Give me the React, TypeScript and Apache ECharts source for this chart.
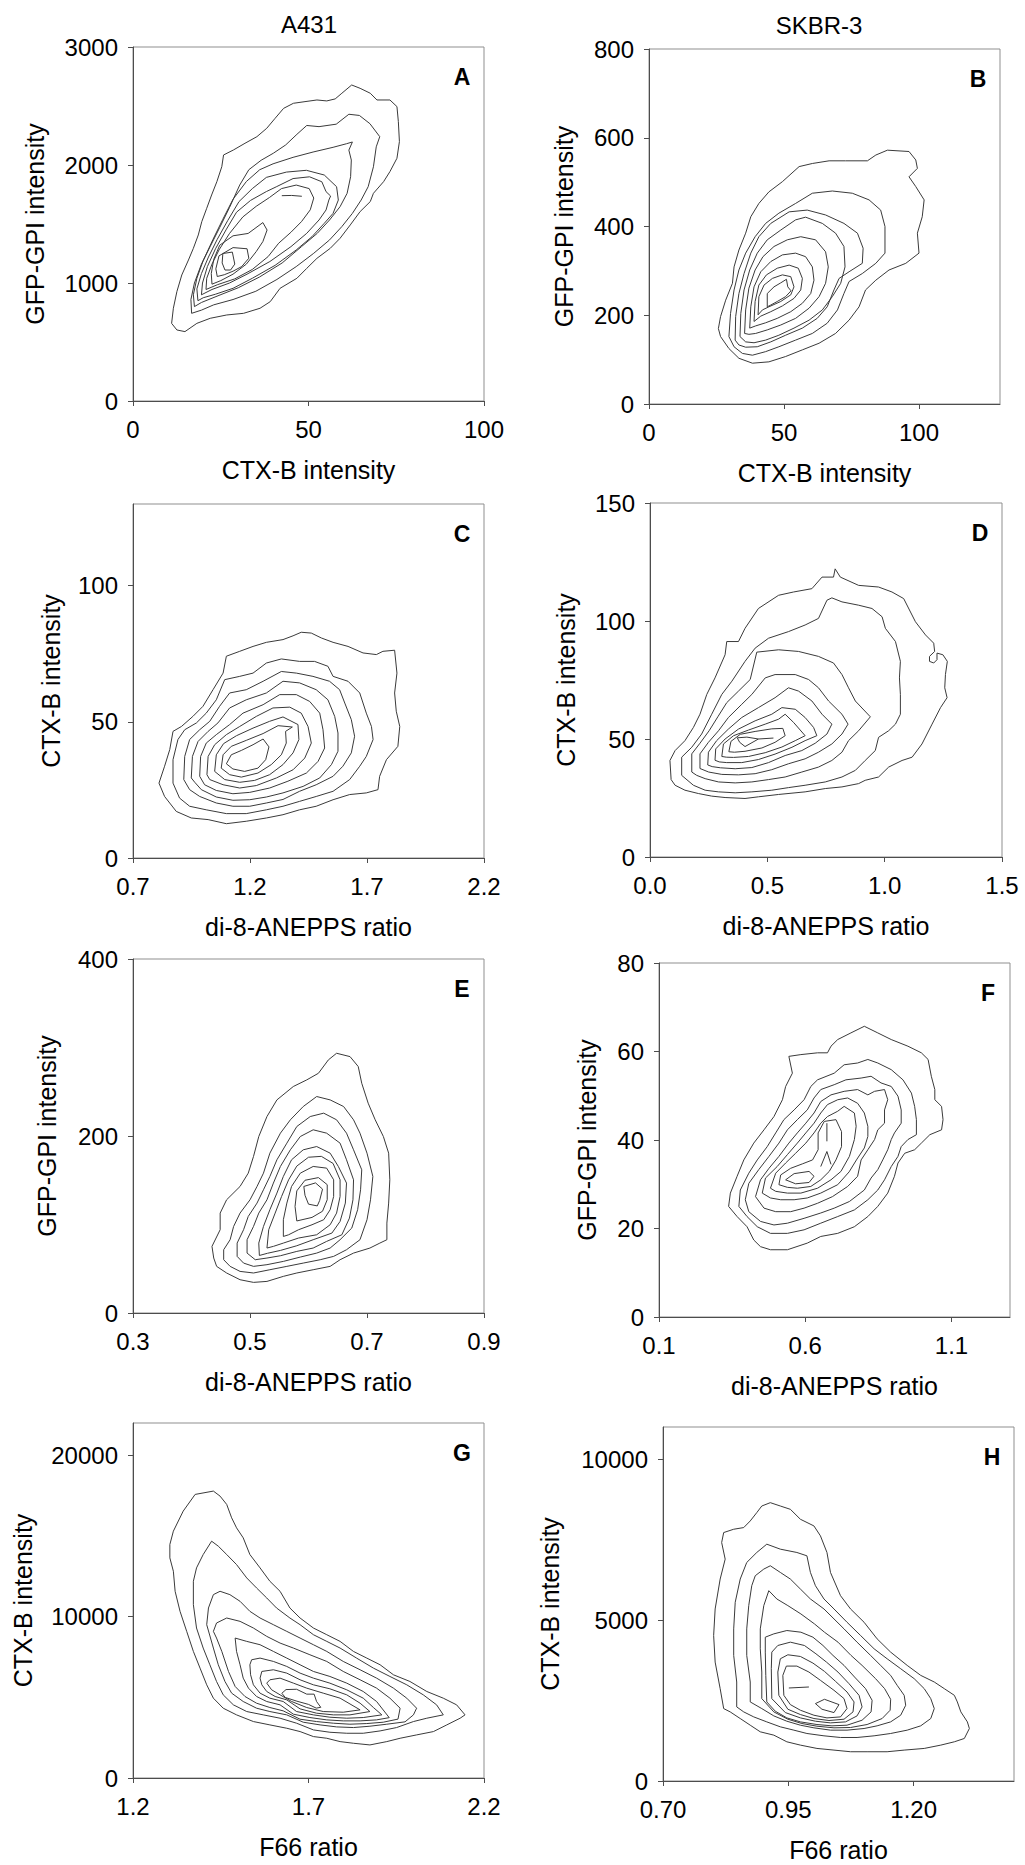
import React, { useEffect, useRef } from "react";
import * as echarts from "echarts";

type Pt = [number, number];

// ---------------- Column headers ----------------
const COLUMN_TITLES = ["A431", "SKBR-3"];

// ---------------- Panel A (A431: CTX-B vs GFP-GPI) ----------------
const A_X_TICKS = [0, 50, 100];
const A_Y_TICKS = [0, 1000, 2000, 3000];
const A_C1: Pt[] = [[11.0,658],[11.5,786],[12.5,927],[13.9,1068],[15.8,1195],[17.2,1294],[18.6,1407],[19.6,1520],[21.0,1633],[22.4,1746],[23.9,1859],[25.3,1986],[25.8,2085],[28.6,2127],[31.9,2184],[35.3,2240],[38.1,2311],[40.5,2396],[42.9,2480],[45.7,2523],[49.0,2537],[52.4,2551],[55.2,2543],[57.6,2560],[59.5,2608],[62.3,2678],[64.7,2650],[67.6,2608],[69.5,2551],[73.2,2551],[75.2,2495],[75.6,2368],[75.9,2198],[75.2,2057],[73.2,1944],[71.4,1859],[68.5,1760],[67.6,1690],[64.7,1605],[61.9,1492],[59.0,1379],[56.2,1294],[52.4,1209],[49.5,1124],[46.7,1040],[41.9,955],[39.1,842],[36.2,786],[31.5,743],[26.7,729],[22.0,701],[18.2,658],[14.8,588],[12.5,602]];
const A_C2: Pt[] = [[16.7,743],[16.5,860],[17.5,1000],[19.5,1160],[22,1310],[24.7,1470],[27.5,1640],[30.4,1830],[33,1960],[36.5,2040],[40,2100],[43.5,2170],[46.7,2260],[49.5,2335],[53,2325],[57.9,2346],[61.5,2430],[64.5,2420],[67.5,2350],[70.3,2240],[69.3,2154],[68.5,1985],[67,1816],[65,1703],[62.5,1590],[59.5,1478],[56,1365],[51.5,1252],[46.5,1139],[41,1030],[35,930],[28.5,860],[23,815],[19.5,770]];
const A_C3: Pt[] = [[17.5,800],[17.2,900],[18.2,1040],[20,1190],[22.8,1370],[25.6,1540],[28.5,1710],[32.3,1860],[36.1,1960],[39.9,2010],[45.6,2065],[51.3,2110],[57,2150],[60.8,2180],[62.5,2195],[61.5,2126],[62.2,2042],[62,1901],[61,1760],[59,1647],[56,1534],[52.5,1421],[48,1308],[42.5,1170],[36,1050],[30,960],[24.5,895],[19.5,835]];
const A_C4: Pt[] = [[18.5,850],[18.2,950],[19.5,1080],[21.5,1220],[24,1370],[27,1530],[30.2,1690],[34,1800],[38,1895],[43.7,1940],[49.4,1955],[54.5,1915],[58,1816],[58.5,1703],[57,1590],[54.5,1506],[51,1393],[46.5,1280],[40.5,1150],[34,1040],[28.5,955],[23.5,905],[20,875]];
const A_C5: Pt[] = [[19.5,900],[19.8,1000],[21.2,1140],[23.5,1290],[26.5,1450],[29.5,1600],[33.5,1700],[38,1775],[40.8,1815],[45.6,1885],[50.3,1900],[53.8,1858],[55,1774],[56.3,1737],[55.8,1703],[55,1619],[53,1534],[49.5,1421],[45,1308],[39,1182],[32.5,1075],[27.5,1000],[22.5,945]];
const A_C6: Pt[] = [[20.8,945],[21,1040],[22.5,1160],[24.5,1280],[27.5,1420],[31.3,1560],[35.1,1650],[38.9,1725],[42.3,1800],[46.5,1830],[50.2,1800],[51.5,1720],[50.5,1620],[48,1520],[45,1430],[41.5,1337],[38.5,1224],[34,1115],[29,1035],[24,985]];
const A_C7: Pt[] = [[22.5,990],[22.3,1080],[23,1200],[24.7,1320],[28.5,1400],[32.8,1420],[37,1512],[38.2,1449],[37,1351],[35.1,1266],[32.3,1160],[28.5,1075],[25,1020]];
const A_C8: Pt[] = [[24,1055],[23.6,1120],[24.5,1230],[28.5,1300],[32.5,1290],[33,1210],[31,1140],[28.5,1100],[26,1070]];
const A_C9: Pt[] = [[25.6,1250],[28.3,1262],[29,1160],[27.8,1110],[26.2,1110],[25.4,1170]];
const A_OPEN1: Pt[] = [[42.4,1740],[45.2,1742],[48.1,1735]];

// ---------------- Panel B (SKBR-3: CTX-B vs GFP-GPI) ----------------
const B_X_TICKS = [0, 50, 100];
const B_Y_TICKS = [0, 200, 400, 600, 800];
const B_C1: Pt[] = [[25.7,170],[26.5,197],[28.4,234],[30.9,272],[31.5,309],[33.3,347],[35.8,385],[37.7,422],[40.7,452],[44.4,478],[49.4,501],[55.6,535],[60.5,542],[66.7,548],[72.8,548],[80.9,548],[84.0,561],[88.3,572],[96.3,569],[98.8,550],[99.4,531],[96.3,512],[98.8,490],[101.9,460],[101.2,422],[99.4,385],[100.0,340],[95.1,317],[88.9,302],[84.0,279],[80.2,257],[77.8,219],[74.1,189],[69.1,159],[63.0,137],[56.8,122],[50.6,107],[44.4,95],[38.3,92],[33.3,103],[29.6,125],[26.5,152]];
const B_C2: Pt[] = [[29.6,152],[30.2,204],[31.5,257],[33.3,302],[35.8,340],[39.3,377],[43.2,407],[48.1,430],[54.3,452],[60.5,475],[67.9,480],[75.3,475],[81.5,460],[85.8,437],[87.4,400],[87.4,340],[84.0,317],[79.0,294],[74.1,276],[72.2,249],[69.8,212],[66.0,182],[60.5,159],[54.3,144],[48.1,129],[43.2,118],[38.3,110],[34.6,114],[31.5,129]];
const B_C3: Pt[] = [[31.9,144],[32.1,197],[33.3,249],[35.2,294],[37.7,340],[40.7,377],[45.1,407],[51.9,433],[58.6,437],[65.4,426],[72.2,407],[77.2,385],[79.3,351],[79.0,317],[74.1,298],[70.4,283],[68.5,257],[66.0,219],[62.3,193],[56.8,171],[50.6,155],[45.1,140],[40.1,129],[35.8,128],[33.3,133]];
const B_C4: Pt[] = [[33.7,152],[34.0,204],[35.2,257],[37.3,302],[40.1,340],[43.8,370],[48.8,392],[54.3,415],[58.0,421],[64.2,407],[69.1,385],[72.2,355],[72.6,309],[71.0,272],[67.9,242],[64.2,212],[59.3,189],[53.7,171],[48.1,155],[43.2,144],[38.9,138],[35.8,140]];
const B_C5: Pt[] = [[35.4,159],[35.8,212],[37.0,261],[39.3,302],[42.2,332],[46.3,355],[51.2,370],[56.2,377],[61.7,370],[65.4,343],[66.4,309],[65.4,272],[63.0,242],[59.3,216],[54.3,193],[48.8,178],[43.8,167],[39.5,159],[37.0,157]];
const B_C6: Pt[] = [[37.3,171],[37.7,219],[38.9,264],[41.4,298],[45.1,321],[49.4,336],[54.3,340],[58.0,332],[60.5,309],[61.1,279],[59.9,249],[56.8,227],[52.5,208],[47.5,193],[43.2,183],[39.5,176]];
const B_C7: Pt[] = [[38.9,186],[39.3,231],[40.7,268],[43.5,291],[47.5,306],[51.9,313],[55.3,306],[56.8,283],[56.2,257],[53.7,238],[49.4,221],[45.1,208],[41.4,198]];
const B_C8: Pt[] = [[40.4,201],[40.7,242],[42.6,268],[45.7,283],[49.4,291],[52.5,287],[53.7,264],[52.5,246],[48.8,231],[44.4,219],[42.0,212]];
const B_C9: Pt[] = [[43.8,219],[43.8,249],[46.3,264],[48.8,273],[50.9,281],[51.4,264],[52.6,255],[50.6,242],[47.5,231],[45.1,223]];

// ---------------- Panel C (A431: di-8-ANEPPS vs CTX-B) ----------------
const C_X_TICKS = [0.7, 1.2, 1.7, 2.2];
const C_Y_TICKS = [0, 50, 100];
const C_C1: Pt[] = [[0.811,27.5],[0.835,33.7],[0.857,39.8],[0.871,46.5],[0.907,48.3],[0.956,52.0],[0.999,55.7],[1.042,61.8],[1.085,67.9],[1.099,74.1],[1.156,75.9],[1.213,77.7],[1.270,79.2],[1.341,80.2],[1.384,81.6],[1.419,82.9],[1.462,82.6],[1.505,80.8],[1.555,79.2],[1.619,77.7],[1.683,75.3],[1.740,74.7],[1.768,75.9],[1.818,76.3],[1.828,67.9],[1.818,60.6],[1.825,53.9],[1.840,48.3],[1.832,41.0],[1.783,36.1],[1.754,30.0],[1.747,25.1],[1.697,23.9],[1.626,23.3],[1.555,21.4],[1.483,19.0],[1.412,17.7],[1.341,15.9],[1.270,14.7],[1.184,13.5],[1.099,12.6],[1.021,14.1],[0.949,14.7],[0.885,17.1],[0.835,22.6]];
const C_C2: Pt[] = [[0.871,27.5],[0.871,36.1],[0.892,43.5],[0.921,47.1],[0.971,49.6],[1.013,53.2],[1.056,58.1],[1.092,65.5],[1.156,66.7],[1.213,67.9],[1.270,71.6],[1.334,73.1],[1.412,72.2],[1.476,72.2],[1.533,70.4],[1.555,66.7],[1.619,64.9],[1.669,60.6],[1.697,53.2],[1.719,48.3],[1.726,43.5],[1.697,37.3],[1.669,33.7],[1.626,28.8],[1.555,24.5],[1.483,22.6],[1.412,20.8],[1.341,19.0],[1.270,17.7],[1.184,16.3],[1.099,16.3],[1.013,17.7],[0.942,19.0],[0.899,22.0]];
const C_C3: Pt[] = [[0.917,28.8],[0.921,37.3],[0.942,43.5],[0.985,47.1],[1.028,50.2],[1.070,55.7],[1.113,60.6],[1.184,61.8],[1.256,64.9],[1.334,68.5],[1.398,67.9],[1.469,66.7],[1.540,64.9],[1.583,61.8],[1.605,56.9],[1.633,50.8],[1.647,44.7],[1.633,38.6],[1.597,33.7],[1.555,30.0],[1.483,26.9],[1.412,24.5],[1.341,21.5],[1.270,20.2],[1.199,19.0],[1.127,19.0],[1.056,20.2],[0.985,22.6],[0.942,25.1]];
const C_C4: Pt[] = [[0.949,29.4],[0.954,37.3],[0.978,42.8],[1.021,46.5],[1.063,49.6],[1.113,55.1],[1.184,58.1],[1.270,60.6],[1.341,64.9],[1.412,64.3],[1.483,61.8],[1.533,58.1],[1.562,52.0],[1.576,45.9],[1.576,39.2],[1.548,34.3],[1.498,29.4],[1.427,26.3],[1.341,23.9],[1.270,22.4],[1.199,21.4],[1.127,21.2],[1.056,22.4],[0.992,25.1],[0.964,27.8]];
const C_C5: Pt[] = [[0.985,30.0],[0.989,37.3],[1.013,42.2],[1.056,45.3],[1.113,49.0],[1.170,53.2],[1.256,56.3],[1.327,60.0],[1.398,60.0],[1.455,57.5],[1.498,53.2],[1.512,47.1],[1.519,40.4],[1.491,35.5],[1.441,31.2],[1.362,28.2],[1.284,25.7],[1.199,24.1],[1.127,23.6],[1.056,24.8],[1.006,26.9]];
const C_C6: Pt[] = [[1.016,30.6],[1.021,37.3],[1.049,41.6],[1.099,45.3],[1.156,48.3],[1.227,52.0],[1.298,55.1],[1.370,55.4],[1.419,53.2],[1.448,48.3],[1.462,42.2],[1.434,36.7],[1.384,32.4],[1.313,29.4],[1.227,26.6],[1.156,25.7],[1.085,26.9],[1.028,28.8]];
const C_C7: Pt[] = [[1.049,31.8],[1.056,37.9],[1.087,42.0],[1.142,44.9],[1.213,47.7],[1.284,50.2],[1.341,51.8],[1.405,49.0],[1.409,43.5],[1.384,38.6],[1.341,34.3],[1.284,30.6],[1.220,28.5],[1.156,27.8],[1.092,28.8]];
const C_C8: Pt[] = [[1.077,33.0],[1.085,37.9],[1.120,41.0],[1.184,43.2],[1.256,45.7],[1.320,48.6],[1.381,48.1],[1.352,46.5],[1.355,42.2],[1.334,37.9],[1.291,34.3],[1.234,31.2],[1.163,29.7],[1.113,30.6]];
const C_C9: Pt[] = [[1.099,34.6],[1.120,37.9],[1.163,39.5],[1.213,41.6],[1.256,43.7],[1.281,40.8],[1.267,36.1],[1.234,33.0],[1.177,31.8],[1.127,32.7]];

// ---------------- Panel D (SKBR-3: di-8-ANEPPS vs CTX-B) ----------------
const D_X_TICKS = [0, 0.5, 1.0, 1.5];
const D_Y_TICKS = [0, 50, 100, 150];
const D_C1: Pt[] = [[0.090,32.8],[0.085,40.9],[0.107,45.1],[0.149,49.3],[0.185,54.9],[0.213,60.5],[0.242,68.9],[0.277,75.9],[0.320,85.7],[0.327,91.3],[0.377,91.3],[0.405,96.9],[0.462,105.3],[0.548,110.9],[0.612,112.3],[0.690,113.7],[0.733,118.6],[0.782,118.6],[0.789,122.1],[0.811,118.6],[0.889,115.1],[0.974,114.4],[1.031,112.3],[1.081,109.5],[1.131,99.7],[1.174,94.1],[1.209,90.6],[1.213,87.1],[1.191,85.0],[1.191,82.9],[1.209,82.2],[1.223,83.6],[1.223,86.4],[1.248,85.7],[1.267,82.9],[1.259,77.3],[1.256,71.7],[1.266,67.5],[1.238,63.3],[1.202,56.3],[1.159,47.9],[1.117,42.3],[1.074,40.9],[1.017,38.1],[0.974,33.9],[0.917,32.5],[0.889,31.1],[0.818,29.7],[0.747,29.0],[0.661,27.6],[0.548,26.5],[0.462,25.5],[0.405,24.8],[0.320,25.2],[0.263,25.8],[0.206,26.9],[0.149,28.3],[0.107,30.4]];
const D_C2: Pt[] = [[0.135,34.6],[0.135,42.3],[0.178,46.5],[0.220,52.1],[0.263,60.5],[0.306,68.9],[0.349,74.5],[0.405,82.9],[0.448,88.5],[0.505,92.7],[0.590,95.5],[0.661,98.3],[0.718,101.1],[0.754,108.8],[0.775,109.8],[0.818,108.1],[0.889,106.7],[0.946,105.3],[0.989,101.8],[1.003,96.9],[1.046,91.3],[1.067,82.9],[1.063,75.9],[1.067,68.9],[1.067,60.5],[1.046,56.3],[1.017,53.5],[0.974,50.7],[0.960,45.1],[0.917,40.9],[0.875,36.7],[0.818,33.9],[0.747,31.8],[0.661,30.4],[0.590,29.4],[0.519,28.3],[0.434,27.6],[0.363,27.2],[0.292,27.6],[0.235,28.3],[0.185,30.4]];
const D_C3: Pt[] = [[0.178,36.0],[0.178,43.7],[0.213,48.2],[0.252,53.5],[0.289,59.4],[0.327,65.4],[0.377,70.3],[0.427,75.2],[0.455,86.8],[0.548,87.8],[0.633,87.1],[0.718,85.0],[0.782,82.2],[0.818,77.3],[0.846,71.7],[0.875,66.1],[0.939,59.4],[0.889,53.5],[0.846,49.3],[0.818,44.4],[0.775,40.9],[0.718,38.1],[0.647,36.0],[0.576,33.9],[0.505,32.8],[0.434,31.8],[0.363,31.4],[0.292,31.8],[0.235,33.2],[0.199,34.6]];
const D_C4: Pt[] = [[0.213,37.5],[0.213,43.7],[0.249,48.6],[0.292,53.5],[0.334,59.1],[0.391,64.7],[0.434,68.9],[0.491,75.9],[0.533,77.3],[0.619,77.3],[0.676,75.2],[0.718,71.7],[0.761,66.1],[0.818,60.5],[0.844,56.3],[0.818,52.1],[0.775,47.9],[0.718,44.4],[0.661,41.6],[0.590,39.5],[0.519,37.0],[0.448,35.3],[0.377,34.8],[0.306,35.0],[0.250,36.0]];
const D_C5: Pt[] = [[0.246,39.0],[0.249,44.4],[0.284,49.3],[0.334,54.2],[0.391,59.1],[0.462,63.3],[0.533,67.5],[0.590,71.7],[0.633,70.3],[0.690,66.1],[0.733,60.5],[0.775,56.3],[0.754,52.1],[0.704,48.2],[0.647,45.1],[0.576,43.0],[0.505,40.0],[0.434,37.9],[0.363,37.4],[0.300,37.8],[0.265,38.3]];
const D_C6: Pt[] = [[0.277,41.0],[0.280,45.8],[0.320,50.0],[0.377,54.2],[0.448,57.7],[0.519,60.5],[0.562,63.3],[0.619,62.6],[0.661,59.1],[0.697,54.9],[0.711,51.4],[0.661,49.3],[0.605,46.5],[0.533,43.6],[0.462,41.3],[0.391,40.0],[0.327,40.0],[0.295,40.3]];
const D_C7: Pt[] = [[0.306,42.6],[0.313,47.9],[0.356,51.4],[0.420,53.8],[0.491,56.3],[0.548,58.4],[0.576,60.5],[0.612,57.0],[0.661,51.4],[0.619,49.3],[0.562,46.6],[0.491,44.2],[0.420,42.6],[0.356,42.2],[0.325,42.3]];
const D_C8: Pt[] = [[0.336,44.6],[0.345,49.0],[0.385,52.0],[0.448,53.2],[0.519,54.3],[0.566,54.5],[0.576,51.4],[0.533,48.6],[0.477,46.2],[0.405,44.8],[0.360,44.4]];
const D_C9: Pt[] = [[0.372,50.5],[0.413,50.8],[0.462,50.0],[0.405,46.8],[0.382,48.6]];
const D_OPEN1: Pt[] = [[0.462,50.0],[0.526,50.4]];

// ---------------- Panel E (A431: di-8-ANEPPS vs GFP-GPI) ----------------
const E_X_TICKS = [0.3, 0.5, 0.7, 0.9];
const E_Y_TICKS = [0, 200, 400];
const E_C1: Pt[] = [[0.438,62.1],[0.435,75.3],[0.449,94.1],[0.449,112.9],[0.460,127.9],[0.483,143.0],[0.497,158.0],[0.506,176.9],[0.515,199.4],[0.529,222.0],[0.546,240.8],[0.574,255.9],[0.597,263.4],[0.617,270.9],[0.634,286.0],[0.648,293.5],[0.671,289.7],[0.685,278.5],[0.691,259.6],[0.702,237.1],[0.714,218.3],[0.728,199.4],[0.737,180.6],[0.739,150.5],[0.737,124.2],[0.734,101.6],[0.734,82.8],[0.722,79.0],[0.705,73.4],[0.677,67.7],[0.654,60.2],[0.637,52.7],[0.608,48.9],[0.580,45.2],[0.557,41.4],[0.529,35.7],[0.506,34.6],[0.483,37.6],[0.460,45.2],[0.443,52.7]];
const E_C2: Pt[] = [[0.455,60.2],[0.455,71.5],[0.466,82.8],[0.472,97.8],[0.483,112.9],[0.500,127.9],[0.512,143.0],[0.523,158.0],[0.534,180.6],[0.552,203.2],[0.569,218.3],[0.591,233.3],[0.614,244.6],[0.637,240.8],[0.660,233.3],[0.677,218.3],[0.688,203.2],[0.700,180.6],[0.710,154.3],[0.706,127.9],[0.700,105.4],[0.688,82.8],[0.665,71.5],[0.643,64.0],[0.620,60.2],[0.591,56.4],[0.563,52.7],[0.534,48.9],[0.506,45.2],[0.483,47.0],[0.466,52.7]];
const E_C3: Pt[] = [[0.478,64.0],[0.478,79.0],[0.489,94.1],[0.497,109.1],[0.512,124.2],[0.523,139.2],[0.534,154.3],[0.546,173.1],[0.563,191.9],[0.580,210.7],[0.603,222.0],[0.626,225.8],[0.648,218.3],[0.665,203.2],[0.677,184.4],[0.691,161.8],[0.689,139.2],[0.684,116.7],[0.674,96.0],[0.654,82.8],[0.637,73.4],[0.614,67.7],[0.586,63.2],[0.557,58.3],[0.529,54.6],[0.506,52.7],[0.489,56.4]];
const E_C4: Pt[] = [[0.495,67.7],[0.495,82.8],[0.506,97.8],[0.515,112.9],[0.529,127.9],[0.540,146.8],[0.552,165.6],[0.569,184.4],[0.586,199.4],[0.608,207.0],[0.631,203.2],[0.654,191.9],[0.665,173.1],[0.677,150.5],[0.676,127.9],[0.670,107.2],[0.657,88.4],[0.631,80.9],[0.608,73.4],[0.580,69.6],[0.552,64.7],[0.529,62.1],[0.509,60.2]];
const E_C5: Pt[] = [[0.516,65.0],[0.515,79.0],[0.523,97.8],[0.534,116.7],[0.546,135.5],[0.557,154.3],[0.571,173.1],[0.591,184.4],[0.614,188.1],[0.637,180.6],[0.651,165.6],[0.665,146.8],[0.663,124.2],[0.654,103.5],[0.640,90.3],[0.608,82.8],[0.580,76.0],[0.552,70.7],[0.530,67.5]];
const E_C6: Pt[] = [[0.529,73.4],[0.532,94.1],[0.543,112.9],[0.554,131.7],[0.566,150.5],[0.580,166.0],[0.600,176.0],[0.622,177.0],[0.642,169.0],[0.654,150.5],[0.654,131.7],[0.648,112.9],[0.637,99.7],[0.614,88.4],[0.583,84.7],[0.557,79.0],[0.540,75.3]];
const E_C7: Pt[] = [[0.557,86.5],[0.557,105.4],[0.563,124.2],[0.571,143.0],[0.586,158.0],[0.608,165.6],[0.631,163.7],[0.643,150.5],[0.643,131.7],[0.637,116.7],[0.626,105.4],[0.606,99.7],[0.583,94.1],[0.566,88.4]];
const E_C8: Pt[] = [[0.580,104.0],[0.577,120.4],[0.580,138.0],[0.594,150.0],[0.617,153.0],[0.632,145.0],[0.632,128.0],[0.624,115.0],[0.606,108.0]];
const E_C9: Pt[] = [[0.592,143.0],[0.612,147.0],[0.624,140.0],[0.619,127.0],[0.615,121.0],[0.600,123.0],[0.594,133.0]];

// ---------------- Panel F (SKBR-3: di-8-ANEPPS vs GFP-GPI) ----------------
const F_X_TICKS = [0.1, 0.6, 1.1];
const F_Y_TICKS = [0, 20, 40, 60, 80];
const F_C1: Pt[] = [[0.338,25.0],[0.344,28.0],[0.367,31.8],[0.390,35.5],[0.424,39.3],[0.459,42.3],[0.493,45.3],[0.522,49.1],[0.533,52.1],[0.556,55.1],[0.544,58.9],[0.585,59.3],[0.642,59.7],[0.676,59.7],[0.688,61.2],[0.711,62.7],[0.756,64.2],[0.802,65.7],[0.848,64.2],[0.894,62.7],[0.951,61.2],[0.997,59.7],[1.020,58.2],[1.031,54.4],[1.043,51.4],[1.043,49.1],[1.066,47.6],[1.071,44.6],[1.066,42.3],[1.026,41.2],[0.997,39.3],[0.974,37.8],[0.940,37.0],[0.917,34.8],[0.905,31.8],[0.882,28.0],[0.848,25.0],[0.814,22.7],[0.768,20.4],[0.711,18.9],[0.653,18.2],[0.607,16.7],[0.539,15.2],[0.481,15.2],[0.447,15.9],[0.424,17.4],[0.401,20.4],[0.367,22.7]];
const F_C2: Pt[] = [[0.373,25.0],[0.378,28.7],[0.407,32.5],[0.436,35.5],[0.470,38.5],[0.499,41.6],[0.527,44.6],[0.562,46.8],[0.596,49.1],[0.619,52.1],[0.642,53.6],[0.699,55.1],[0.733,57.0],[0.779,57.4],[0.814,58.2],[0.848,57.4],[0.894,55.9],[0.934,53.6],[0.963,50.6],[0.974,47.6],[0.980,44.6],[0.980,41.2],[0.951,40.1],[0.928,38.5],[0.917,36.3],[0.894,34.0],[0.871,31.0],[0.848,28.7],[0.814,26.5],[0.768,24.2],[0.711,22.7],[0.653,21.2],[0.596,19.7],[0.539,18.9],[0.481,18.9],[0.436,20.4],[0.401,22.7]];
const F_C3: Pt[] = [[0.395,26.5],[0.407,30.2],[0.441,33.3],[0.476,36.3],[0.510,39.3],[0.539,42.3],[0.573,44.6],[0.607,46.8],[0.630,49.5],[0.653,51.4],[0.699,52.5],[0.739,53.6],[0.791,54.0],[0.825,54.4],[0.859,52.9],[0.894,52.1],[0.917,49.9],[0.928,46.8],[0.928,43.8],[0.905,41.6],[0.894,40.1],[0.882,37.8],[0.865,35.5],[0.848,33.3],[0.825,31.4],[0.802,28.7],[0.751,26.1],[0.699,24.6],[0.653,23.5],[0.596,22.3],[0.539,21.2],[0.493,20.8],[0.447,21.6],[0.407,23.8]];
const F_C4: Pt[] = [[0.430,27.2],[0.447,31.0],[0.476,33.6],[0.510,36.3],[0.544,39.3],[0.573,41.6],[0.602,43.8],[0.630,46.1],[0.653,48.7],[0.688,50.2],[0.733,51.0],[0.779,51.4],[0.814,50.2],[0.837,51.0],[0.871,51.4],[0.882,49.1],[0.871,46.8],[0.871,43.8],[0.848,42.3],[0.837,40.1],[0.814,37.8],[0.791,35.5],[0.779,31.8],[0.745,29.5],[0.693,27.2],[0.642,25.7],[0.596,24.6],[0.550,23.8],[0.499,23.8],[0.459,24.6]];
const F_C5: Pt[] = [[0.453,28.0],[0.464,31.4],[0.504,34.0],[0.539,36.7],[0.573,39.3],[0.602,41.6],[0.630,43.8],[0.653,46.1],[0.676,48.0],[0.711,49.1],[0.745,49.5],[0.779,48.3],[0.802,46.1],[0.814,43.1],[0.814,40.8],[0.802,38.2],[0.775,35.5],[0.750,32.8],[0.711,29.9],[0.653,28.0],[0.607,26.9],[0.562,26.5],[0.516,26.5],[0.481,26.9]];
const F_C6: Pt[] = [[0.481,29.1],[0.499,32.5],[0.533,34.8],[0.567,37.0],[0.602,39.3],[0.630,41.6],[0.653,43.8],[0.676,45.3],[0.711,46.5],[0.733,47.6],[0.768,46.1],[0.774,43.1],[0.768,40.1],[0.751,36.3],[0.722,32.9],[0.688,31.0],[0.642,29.1],[0.585,28.0],[0.539,28.0],[0.499,28.4]];
const F_C7: Pt[] = [[0.510,29.9],[0.516,32.1],[0.550,33.6],[0.590,34.6],[0.625,35.5],[0.644,37.8],[0.644,41.6],[0.665,44.2],[0.705,44.6],[0.724,41.9],[0.724,38.5],[0.705,35.5],[0.682,32.9],[0.653,31.0],[0.619,29.5],[0.573,29.1],[0.539,29.3]];
const F_C8: Pt[] = [[0.533,31.0],[0.562,32.4],[0.613,32.9],[0.630,31.8],[0.613,30.4],[0.567,30.1]];
const F_OPEN1: Pt[] = [[0.674,43.8],[0.674,39.7]];
const F_OPEN2: Pt[] = [[0.653,34.0],[0.674,37.4],[0.688,34.5]];

// ---------------- Panel G (A431: F66 vs CTX-B) ----------------
const G_X_TICKS = [1.2, 1.7, 2.2];
const G_Y_TICKS = [0, 10000, 20000];
const G_C1: Pt[] = [[1.305,14469],[1.315,15297],[1.343,16539],[1.377,17574],[1.429,17781],[1.448,17470],[1.467,16953],[1.481,16125],[1.495,15504],[1.514,14883],[1.533,13848],[1.562,13020],[1.590,12192],[1.619,11571],[1.647,10536],[1.676,9915],[1.714,9294],[1.752,8880],[1.790,8466],[1.828,7845],[1.866,7431],[1.904,7017],[1.942,6396],[1.989,5982],[2.037,5361],[2.084,4947],[2.122,4533],[2.146,3912],[2.132,3705],[2.094,3291],[2.056,2877],[2.008,2670],[1.961,2463],[1.923,2256],[1.875,2049],[1.828,2153],[1.790,2256],[1.752,2463],[1.714,2567],[1.676,2877],[1.638,3084],[1.590,3291],[1.543,3498],[1.495,3912],[1.457,4326],[1.429,4947],[1.410,5775],[1.391,6810],[1.372,7845],[1.353,9087],[1.334,10329],[1.320,11571],[1.315,12813],[1.305,13641]];
const G_C2: Pt[] = [[1.372,12192],[1.381,13020],[1.400,13848],[1.424,14676],[1.443,14366],[1.467,13848],[1.495,13227],[1.524,12399],[1.552,11778],[1.581,11157],[1.609,10536],[1.647,9915],[1.676,9501],[1.714,8880],[1.752,8466],[1.790,8052],[1.837,7431],[1.885,6810],[1.932,6293],[1.980,5775],[2.027,5154],[2.065,4533],[2.084,3912],[2.037,3705],[1.999,3498],[1.951,3126],[1.904,2918],[1.856,2773],[1.809,2773],[1.761,2835],[1.714,2980],[1.666,3395],[1.619,3705],[1.571,3912],[1.524,4119],[1.486,4533],[1.457,5154],[1.438,5982],[1.419,7017],[1.400,8052],[1.381,9294],[1.372,10743]];
const G_C3: Pt[] = [[1.410,9501],[1.415,10536],[1.429,11364],[1.448,11571],[1.476,11364],[1.505,10950],[1.533,10329],[1.562,9915],[1.600,9501],[1.638,9087],[1.676,8673],[1.714,8259],[1.752,7845],[1.799,7224],[1.847,6707],[1.894,6189],[1.942,5568],[1.980,4947],[2.008,4326],[1.999,3912],[1.975,3480],[1.923,3333],[1.875,3209],[1.828,3126],[1.780,3167],[1.733,3291],[1.685,3457],[1.638,3912],[1.590,4119],[1.552,4326],[1.514,4740],[1.481,5258],[1.462,5982],[1.443,7017],[1.429,8052]];
const G_C4: Pt[] = [[1.429,9087],[1.438,9605],[1.467,9915],[1.505,9708],[1.543,9294],[1.581,8777],[1.619,8362],[1.657,8052],[1.704,7638],[1.752,7224],[1.799,6603],[1.847,6086],[1.894,5568],[1.932,4947],[1.961,4326],[1.955,3650],[1.913,3457],[1.866,3374],[1.818,3333],[1.771,3395],[1.723,3498],[1.676,3643],[1.628,4160],[1.590,4368],[1.552,4636],[1.519,5051],[1.491,5672],[1.472,6603],[1.453,7845],[1.438,8673]];
const G_C5: Pt[] = [[1.491,8673],[1.524,8466],[1.562,8259],[1.600,7845],[1.638,7431],[1.676,7017],[1.714,6603],[1.761,6293],[1.809,5878],[1.856,5361],[1.894,4740],[1.930,3740],[1.894,3602],[1.847,3540],[1.799,3540],[1.752,3602],[1.704,3747],[1.657,3954],[1.619,4533],[1.581,4740],[1.552,5051],[1.529,5568],[1.514,6189],[1.505,7017],[1.495,7845]];
const G_C6: Pt[] = [[1.533,7017],[1.538,7328],[1.562,7431],[1.600,7224],[1.638,6914],[1.676,6500],[1.714,6189],[1.761,5878],[1.809,5465],[1.856,4947],[1.885,4368],[1.909,3912],[1.856,3747],[1.809,3705],[1.761,3767],[1.714,3912],[1.666,4119],[1.628,4740],[1.590,4947],[1.562,5258],[1.543,5775],[1.535,6396]];
const G_C7: Pt[] = [[1.562,6189],[1.567,6603],[1.600,6707],[1.638,6500],[1.676,6086],[1.714,5775],[1.761,5527],[1.809,5154],[1.847,4636],[1.875,4119],[1.818,3912],[1.771,3912],[1.723,4016],[1.676,4284],[1.638,4842],[1.605,5051],[1.581,5361],[1.567,5775]];
const G_C8: Pt[] = [[1.581,5879],[1.590,6086],[1.619,6189],[1.657,5879],[1.695,5568],[1.742,5258],[1.790,4947],[1.847,4222],[1.799,4077],[1.742,4119],[1.695,4367],[1.652,4740],[1.619,5154],[1.595,5465]];
const G_C9: Pt[] = [[1.624,5250],[1.636,5480],[1.666,5500],[1.695,5196],[1.716,5196],[1.723,4740],[1.735,4380],[1.722,4330],[1.700,4560],[1.667,4760],[1.634,4990]];

// ---------------- Panel H (SKBR-3: F66 vs CTX-B) ----------------
const H_X_TICKS = [0.7, 0.95, 1.2];
const H_Y_TICKS = [0, 5000, 10000];
const H_C1: Pt[] = [[0.821,2250],[0.814,2869],[0.804,3695],[0.801,4521],[0.804,5346],[0.814,6275],[0.824,6894],[0.817,7410],[0.821,7720],[0.841,7823],[0.861,7875],[0.874,8081],[0.887,8339],[0.897,8545],[0.914,8649],[0.934,8545],[0.954,8442],[0.974,8133],[1.001,7926],[1.014,7617],[1.027,7101],[1.034,6481],[1.054,5759],[1.074,5346],[1.101,4933],[1.127,4417],[1.154,4005],[1.187,3592],[1.214,3282],[1.241,3076],[1.261,2869],[1.281,2663],[1.287,2457],[1.294,2147],[1.307,1837],[1.311,1631],[1.301,1322],[1.281,1218],[1.254,1115],[1.221,1012],[1.181,960],[1.147,909],[1.107,909],[1.074,909],[1.041,960],[1.007,1012],[0.974,1115],[0.947,1218],[0.921,1425],[0.894,1528],[0.874,1734],[0.854,1941],[0.834,2147]];
const H_C2: Pt[] = [[0.847,2302],[0.847,3076],[0.841,3902],[0.841,4727],[0.844,5553],[0.854,6275],[0.867,6791],[0.887,7101],[0.907,7359],[0.934,7204],[0.967,7101],[0.987,6997],[0.994,6481],[1.004,6069],[1.021,5656],[1.041,5346],[1.067,4933],[1.094,4521],[1.121,4108],[1.147,3798],[1.174,3489],[1.201,3179],[1.221,2869],[1.234,2560],[1.241,2250],[1.234,1941],[1.214,1714],[1.187,1580],[1.154,1476],[1.121,1404],[1.087,1352],[1.054,1352],[1.021,1404],[0.987,1476],[0.961,1580],[0.934,1683],[0.907,1837],[0.881,1992],[0.861,2147]];
const H_C3: Pt[] = [[0.874,2457],[0.874,3076],[0.867,3902],[0.867,4727],[0.871,5450],[0.877,6069],[0.884,6378],[0.901,6585],[0.914,6688],[0.934,6481],[0.954,6275],[0.974,5965],[0.994,5656],[1.021,5346],[1.041,5036],[1.061,4727],[1.087,4314],[1.114,3902],[1.134,3592],[1.154,3282],[1.167,2973],[1.181,2663],[1.184,2353],[1.174,2044],[1.154,1837],[1.127,1714],[1.101,1631],[1.067,1580],[1.034,1580],[1.001,1652],[0.974,1734],[0.947,1858],[0.921,2023],[0.897,2250]];
const H_C4: Pt[] = [[0.897,2560],[0.897,3386],[0.894,4108],[0.894,4727],[0.901,5450],[0.911,5914],[0.927,5656],[0.949,5450],[0.975,5191],[1.002,4882],[1.022,4624],[1.049,4314],[1.075,3902],[1.097,3592],[1.124,3179],[1.142,2869],[1.154,2539],[1.153,2199],[1.137,1941],[1.107,1755],[1.074,1662],[1.041,1652],[1.007,1703],[0.977,1786],[0.949,1920],[0.921,2147]];
const H_C5: Pt[] = [[0.907,2457],[0.905,3282],[0.904,4005],[0.904,4469],[0.921,4572],[0.947,4676],[0.975,4624],[0.999,4469],[1.019,4211],[1.039,3902],[1.061,3592],[1.082,3231],[1.104,2869],[1.117,2508],[1.115,2147],[1.097,1889],[1.067,1734],[1.037,1714],[1.007,1755],[0.974,1837],[0.947,1961],[0.924,2168]];
const H_C6: Pt[] = [[0.917,2560],[0.916,3489],[0.917,4005],[0.929,4211],[0.954,4314],[0.982,4211],[1.005,3953],[1.026,3695],[1.049,3385],[1.071,3024],[1.091,2663],[1.097,2302],[1.087,2023],[1.064,1837],[1.034,1806],[1.004,1858],[0.974,1961],[0.944,2126]];
const H_C7: Pt[] = [[0.931,2663],[0.929,3386],[0.934,3798],[0.949,3922],[0.974,3870],[0.999,3664],[1.022,3406],[1.044,3097],[1.067,2766],[1.081,2457],[1.079,2147],[1.061,1920],[1.031,1879],[1.001,1941],[0.974,2065],[0.949,2230]];
const H_C8: Pt[] = [[0.941,2663],[0.939,3282],[0.946,3571],[0.967,3571],[0.991,3386],[1.014,3128],[1.041,2818],[1.061,2560],[1.067,2250],[1.054,1992],[1.027,1961],[1.001,2044],[0.974,2199],[0.954,2374]];
const H_C9: Pt[] = [[1.004,2405],[1.022,2539],[1.051,2374],[1.041,2126],[1.017,2230]];
const H_OPEN1: Pt[] = [[0.951,2890],[0.991,2921]];

// ---------------- Panel definitions (data only) ----------------
interface PanelData {
  letter: string;
  xName: string;
  yName: string;
  xRange: [number, number];
  yRange: [number, number];
  xTicks: number[];
  yTicks: number[];
  xDec: number;
  yDec: number;
  closed: Pt[][];
  open: Pt[][];
}

const PANELS: PanelData[] = [
  { letter: "A", xName: "CTX-B intensity", yName: "GFP-GPI intensity", xRange: [0, 100], yRange: [0, 3000], xTicks: A_X_TICKS, yTicks: A_Y_TICKS, xDec: 0, yDec: 0, closed: [A_C1, A_C2, A_C3, A_C4, A_C5, A_C6, A_C7, A_C8, A_C9], open: [A_OPEN1] },
  { letter: "B", xName: "CTX-B intensity", yName: "GFP-GPI intensity", xRange: [0, 130], yRange: [0, 800], xTicks: B_X_TICKS, yTicks: B_Y_TICKS, xDec: 0, yDec: 0, closed: [B_C1, B_C2, B_C3, B_C4, B_C5, B_C6, B_C7, B_C8, B_C9], open: [] },
  { letter: "C", xName: "di-8-ANEPPS ratio", yName: "CTX-B intensity", xRange: [0.7, 2.2], yRange: [0, 130], xTicks: C_X_TICKS, yTicks: C_Y_TICKS, xDec: 1, yDec: 0, closed: [C_C1, C_C2, C_C3, C_C4, C_C5, C_C6, C_C7, C_C8, C_C9], open: [] },
  { letter: "D", xName: "di-8-ANEPPS ratio", yName: "CTX-B intensity", xRange: [0, 1.5], yRange: [0, 150], xTicks: D_X_TICKS, yTicks: D_Y_TICKS, xDec: 1, yDec: 0, closed: [D_C1, D_C2, D_C3, D_C4, D_C5, D_C6, D_C7, D_C8, D_C9], open: [D_OPEN1] },
  { letter: "E", xName: "di-8-ANEPPS ratio", yName: "GFP-GPI intensity", xRange: [0.3, 0.9], yRange: [0, 400], xTicks: E_X_TICKS, yTicks: E_Y_TICKS, xDec: 1, yDec: 0, closed: [E_C1, E_C2, E_C3, E_C4, E_C5, E_C6, E_C7, E_C8, E_C9], open: [] },
  { letter: "F", xName: "di-8-ANEPPS ratio", yName: "GFP-GPI intensity", xRange: [0.1, 1.3], yRange: [0, 80], xTicks: F_X_TICKS, yTicks: F_Y_TICKS, xDec: 1, yDec: 0, closed: [F_C1, F_C2, F_C3, F_C4, F_C5, F_C6, F_C7, F_C8], open: [F_OPEN1, F_OPEN2] },
  { letter: "G", xName: "F66 ratio", yName: "CTX-B intensity", xRange: [1.2, 2.2], yRange: [0, 22000], xTicks: G_X_TICKS, yTicks: G_Y_TICKS, xDec: 1, yDec: 0, closed: [G_C1, G_C2, G_C3, G_C4, G_C5, G_C6, G_C7, G_C8, G_C9], open: [] },
  { letter: "H", xName: "F66 ratio", yName: "CTX-B intensity", xRange: [0.7, 1.4], yRange: [0, 11000], xTicks: H_X_TICKS, yTicks: H_Y_TICKS, xDec: 2, yDec: 0, closed: [H_C1, H_C2, H_C3, H_C4, H_C5, H_C6, H_C7, H_C8, H_C9], open: [H_OPEN1] },
];

// ---------------- Layout (pixels, style only) ----------------
const LAYOUT = [
  { left: 133, top: 47, width: 351, height: 354, yNameGap: 86 },
  { left: 649, top: 49, width: 351, height: 355, yNameGap: 73 },
  { left: 133, top: 504, width: 351, height: 354, yNameGap: 70 },
  { left: 650, top: 503, width: 352, height: 354, yNameGap: 72 },
  { left: 133, top: 959, width: 351, height: 354, yNameGap: 74 },
  { left: 659, top: 963, width: 351, height: 354, yNameGap: 60 },
  { left: 133, top: 1423, width: 351, height: 355, yNameGap: 98 },
  { left: 663, top: 1427, width: 351, height: 354, yNameGap: 101 },
];
const COLUMN_TITLE_POS = [
  { x: 309, y: 24 },
  { x: 819, y: 25 },
];

const FONT = '"Liberation Sans", Arial, Helvetica, sans-serif';
const AXIS_COLOR = "#4d4d4d";
const BORDER_COLOR = "#8f8f8f";
const LINE_COLOR = "#3a3a3a";

function buildOption() {
  const grid: any[] = [];
  const xAxis: any[] = [];
  const yAxis: any[] = [];
  const series: any[] = [];
  const graphic: any[] = [];

  PANELS.forEach((p, i) => {
    const L = LAYOUT[i];
    grid.push({
      left: L.left,
      top: L.top,
      width: L.width,
      height: L.height,
      show: true,
      borderColor: BORDER_COLOR,
      borderWidth: 1,
      backgroundColor: "transparent",
      containLabel: false,
    });
    xAxis.push({
      type: "value",
      gridIndex: i,
      min: p.xRange[0],
      max: p.xRange[1],
      name: p.xName,
      nameLocation: "middle",
      nameGap: 56,
      nameTextStyle: { fontSize: 25, fontFamily: FONT, color: "#000" },
      axisLine: { show: true, onZero: false, lineStyle: { color: AXIS_COLOR, width: 1 } },
      axisTick: { show: true, inside: false, length: 5, customValues: p.xTicks, lineStyle: { color: AXIS_COLOR, width: 1 } },
      axisLabel: {
        show: true,
        margin: 16,
        fontSize: 24,
        fontFamily: FONT,
        color: "#000",
        customValues: p.xTicks,
        formatter: (v: number) => Number(v).toFixed(p.xDec),
      },
      splitLine: { show: false },
    });
    yAxis.push({
      type: "value",
      gridIndex: i,
      min: p.yRange[0],
      max: p.yRange[1],
      name: p.yName,
      nameLocation: "middle",
      nameGap: L.yNameGap,
      nameTextStyle: { fontSize: 25, fontFamily: FONT, color: "#000" },
      axisLine: { show: true, onZero: false, lineStyle: { color: AXIS_COLOR, width: 1 } },
      axisTick: { show: true, inside: false, length: 5, customValues: p.yTicks, lineStyle: { color: AXIS_COLOR, width: 1 } },
      axisLabel: {
        show: true,
        margin: 15,
        fontSize: 24,
        fontFamily: FONT,
        color: "#000",
        customValues: p.yTicks,
        formatter: (v: number) => Number(v).toFixed(p.yDec),
      },
      splitLine: { show: false },
    });
    p.closed.forEach((c) => {
      series.push({
        type: "line",
        xAxisIndex: i,
        yAxisIndex: i,
        data: [...c, c[0]],
        showSymbol: false,
        symbol: "none",
        silent: true,
        lineStyle: { color: LINE_COLOR, width: 1 },
        z: 3,
      });
    });
    p.open.forEach((c) => {
      series.push({
        type: "line",
        xAxisIndex: i,
        yAxisIndex: i,
        data: c,
        showSymbol: false,
        symbol: "none",
        silent: true,
        lineStyle: { color: LINE_COLOR, width: 1 },
        z: 3,
      });
    });
    graphic.push({
      type: "text",
      x: L.left + L.width - 22,
      y: L.top + 30,
      silent: true,
      style: {
        text: p.letter,
        fill: "#000",
        fontSize: 23,
        fontWeight: "bold",
        fontFamily: FONT,
        align: "center",
        verticalAlign: "middle",
        textAlign: "center",
        textVerticalAlign: "middle",
      },
    });
  });

  COLUMN_TITLES.forEach((t, i) => {
    graphic.push({
      type: "text",
      x: COLUMN_TITLE_POS[i].x,
      y: COLUMN_TITLE_POS[i].y,
      silent: true,
      style: {
        text: t,
        fill: "#000",
        fontSize: 24,
        fontFamily: FONT,
        align: "center",
        verticalAlign: "middle",
        textAlign: "center",
        textVerticalAlign: "middle",
      },
    });
  });

  return {
    animation: false,
    backgroundColor: "#ffffff",
    grid,
    xAxis,
    yAxis,
    series,
    graphic,
  };
}

export default function App() {
  const ref = useRef<HTMLDivElement>(null);
  useEffect(() => {
    if (!ref.current) return;
    const chart = echarts.init(ref.current, undefined, { renderer: "svg" });
    chart.setOption(buildOption() as any);
    return () => {
      chart.dispose();
    };
  }, []);
  return (
    <div
      ref={ref}
      style={{ position: "absolute", left: 0, top: 0, width: 1025, height: 1865, background: "#fff" }}
    />
  );
}
